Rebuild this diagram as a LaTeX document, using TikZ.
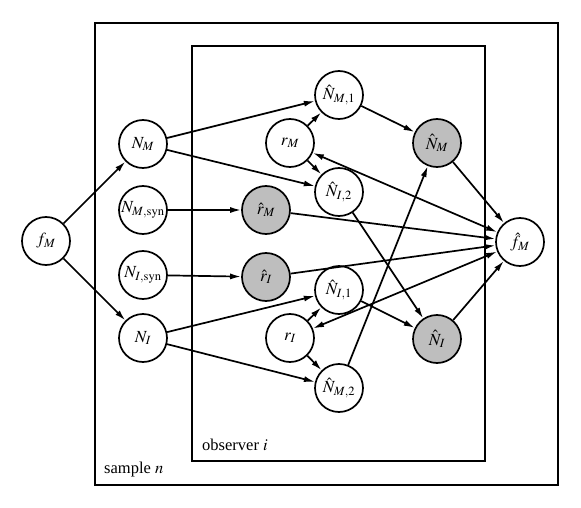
\documentclass[tikz,border=0pt]{standalone}
\usepackage{mathptmx}
\usepackage{fontspec}
\setmainfont{Liberation Serif}
\usetikzlibrary{arrows.meta}
\definecolor{obs}{RGB}{190,190,190}
\begin{document}
\begin{tikzpicture}[x=1pt,y=-1pt,
  var/.style={circle,draw,line width=1.7pt,minimum size=48pt,inner sep=0pt,fill=white,font=\fontsize{17}{19}\selectfont},
  obsvar/.style={var,fill=obs},
  edge/.style={line width=1.7pt,-{Latex[length=11pt,width=6pt]}},
  bedge/.style={line width=1.7pt,{Latex[length=11pt,width=6pt]}-{Latex[length=11pt,width=6pt]}},
  plate/.style={draw,line width=1.7pt},
  lab/.style={anchor=base west,inner sep=0pt,font=\fontsize{16.5}{18}\selectfont}]
\useasboundingbox (0,0) rectangle (581,508);
\draw[plate] (95,23) rectangle (558,485);
\draw[plate] (192,46) rectangle (485,461);
\node[lab] (sample) at (104,473) {sample $n$};
\node[lab] (observer) at (202,450) {observer $i$};

\node[var] (fM) at (46,241) {$f_M$};
\node[var] (NM) at (143,144) {$N_M$};
\node[var] (NMs) at (143,210) {$N_{M,\mathrm{syn}}$};
\node[var] (NIs) at (143,275) {$N_{I,\mathrm{syn}}$};
\node[var] (NI) at (143,338) {$N_I$};

\node[var] (NhM1) at (339,95) {$\hat{N}_{M,1}$};
\node[var] (rM) at (290,143) {$r_M$};
\node[var] (NhI2) at (339,192) {$\hat{N}_{I,2}$};
\node[obsvar] (rhM) at (266,210) {$\hat{r}_M$};
\node[obsvar] (rhI) at (266,277) {$\hat{r}_I$};
\node[var] (NhI1) at (339,290) {$\hat{N}_{I,1}$};
\node[var] (rI) at (290,338) {$r_I$};
\node[var] (NhM2) at (339,388) {$\hat{N}_{M,2}$};

\node[obsvar] (NhM) at (437,143) {$\hat{N}_M$};
\node[obsvar] (NhI) at (437,339) {$\hat{N}_I$};
\node[var] (fh) at (520,242) {$\hat{f}_M$};

\draw[edge] (fM) -- (NM);
\draw[edge] (fM) -- (NI);
\draw[edge] (NM) -- (NhM1);
\draw[edge] (NM) -- (NhI2);
\draw[edge] (NI) -- (NhI1);
\draw[edge] (NI) -- (NhM2);
\draw[edge] (NMs) -- (rhM);
\draw[edge] (NIs) -- (rhI);
\draw[edge] (rM) -- (NhM1);
\draw[edge] (rM) -- (NhI2);
\draw[edge] (rI) -- (NhI1);
\draw[edge] (rI) -- (NhM2);
\draw[edge] (NhM1) -- (NhM);
\draw[edge] (NhM2) -- (NhM);
\draw[edge] (NhI2) -- (NhI);
\draw[edge] (NhI1) -- (NhI);
\draw[bedge] (rM) -- (fh);
\draw[bedge] (rI) -- (fh);
\draw[edge] (rhM) -- (fh);
\draw[edge] (rhI) -- (fh);
\draw[edge] (NhM) -- (fh);
\draw[edge] (NhI) -- (fh);
\end{tikzpicture}
\end{document}
